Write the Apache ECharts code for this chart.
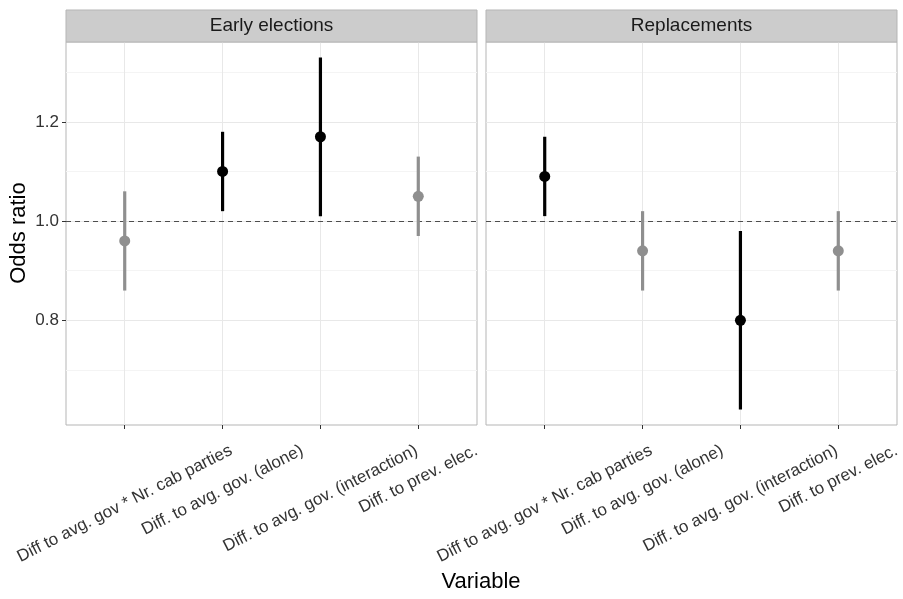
<!DOCTYPE html>
<html>
<head>
<meta charset="utf-8">
<title>Odds ratios by variable</title>
<script src="https://cdn.jsdelivr.net/npm/echarts@6/dist/echarts.min.js"></script>
<style>
  html, body { margin: 0; padding: 0; background: #fff; }
  #chart { width: 903px; height: 599px; }
</style>
</head>
<body>
<div id="chart"></div>
<script>
// Variables shown on the x axis of each facet
const categories = [
  'Diff to avg. gov * Nr. cab parties',
  'Diff. to avg. gov. (alone)',
  'Diff. to avg. gov. (interaction)',
  'Diff. to prev. elec.'
];
const panels = ['Early elections', 'Replacements'];

// Odds ratios with lower / upper bounds, per facet
const earlyEst  = [0.96, 1.10, 1.17, 1.05];
const earlyLow  = [0.86, 1.02, 1.01, 0.97];
const earlyHigh = [1.06, 1.18, 1.33, 1.13];

const replEst  = [1.09, 0.94, 0.80, 0.94];
const replLow  = [1.01, 0.86, 0.62, 0.86];
const replHigh = [1.17, 1.02, 0.98, 1.02];

// Y axis ticks and reference value
const majorTicks = [0.8, 1.0, 1.2];
const minorTicks = [0.7, 0.9, 1.1, 1.3];
const refValue = 1.0;
const yMin = 0.589, yMax = 1.361;

const FONT = '"Liberation Sans", Arial, Helvetica, sans-serif';
const SIG = '#000000';
const NONSIG = '#8f8f8f';
const catPos = categories.map((_, i) => i + 1);

// rotated category labels: centred on the tick, top edges lined up below the axis
const LABEL_SIZE = 17;
const LABEL_ANGLE = 27;
const LABEL_TOP_GAP = 17;

const panelData = [
  { est: earlyEst, low: earlyLow, high: earlyHigh },
  { est: replEst, low: replLow, high: replHigh }
];

const gridBoxes = [
  { left: 66, top: 42, width: 411, height: 383 },
  { left: 486, top: 42, width: 411, height: 383 }
];

const grids = gridBoxes.map(b => Object.assign({
  show: true, borderColor: '#b5b5b5', borderWidth: 1, backgroundColor: '#ffffff'
}, b));

const xAxes = gridBoxes.map((_, i) => ({
  type: 'value', gridIndex: i, min: 0.4, max: 4.6,
  axisLine: { show: false },
  splitLine: { show: false },
  axisTick: { show: true, customValues: catPos, length: 4, lineStyle: { color: '#333', width: 1 } },
  axisLabel: { show: false }
}));

const yAxes = gridBoxes.map((_, i) => ({
  type: 'value', gridIndex: i, min: yMin, max: yMax,
  axisLine: { show: false },
  splitLine: { show: false },
  axisTick: { show: i === 0, customValues: majorTicks, length: 4, lineStyle: { color: '#333', width: 1 } },
  axisLabel: {
    show: i === 0, customValues: majorTicks,
    formatter: v => v.toFixed(1), margin: 7,
    fontFamily: FONT, fontSize: 17, color: '#333'
  }
}));

function gridLines(i) {
  const lines = [];
  minorTicks.forEach(v => lines.push({ yAxis: v, lineStyle: { color: '#f4f4f4', width: 1, type: 'solid' } }));
  majorTicks.forEach(v => lines.push({ yAxis: v, lineStyle: { color: '#e8e8e8', width: 1, type: 'solid' } }));
  catPos.forEach(v => lines.push({ xAxis: v, lineStyle: { color: '#e8e8e8', width: 1, type: 'solid' } }));
  return {
    type: 'scatter', xAxisIndex: i, yAxisIndex: i, data: [], silent: true, z: 1,
    markLine: { silent: true, symbol: 'none', label: { show: false }, animation: false, data: lines, z: 1 }
  };
}

function refLine(i) {
  return {
    type: 'scatter', xAxisIndex: i, yAxisIndex: i, data: [], silent: true, z: 2,
    markLine: {
      silent: true, symbol: 'none', label: { show: false }, animation: false, z: 2,
      data: [{ yAxis: refValue, lineStyle: { color: '#4d4d4d', width: 1.2, type: [5, 4] } }]
    }
  };
}

function intervals(i) {
  const d = panelData[i];
  const rows = catPos.map((x, k) => [x, d.low[k], d.high[k], d.est[k]]);
  return {
    type: 'custom', xAxisIndex: i, yAxisIndex: i, z: 5,
    data: rows,
    encode: { x: 0, y: [1, 2, 3] },
    renderItem: (params, api) => {
      const x = api.value(0), lo = api.value(1), hi = api.value(2), est = api.value(3);
      const significant = lo > refValue || hi < refValue;
      const color = significant ? SIG : NONSIG;
      const pLo = api.coord([x, lo]);
      const pHi = api.coord([x, hi]);
      const pEst = api.coord([x, est]);
      return {
        type: 'group',
        children: [
          { type: 'line', shape: { x1: pLo[0], y1: pLo[1], x2: pHi[0], y2: pHi[1] },
            style: { stroke: color, lineWidth: 3.2 } },
          { type: 'circle', shape: { cx: pEst[0], cy: pEst[1], r: 5.5 },
            style: { fill: color } }
        ]
      };
    }
  };
}

const graphics = [];
gridBoxes.forEach((b, i) => {
  graphics.push({
    type: 'rect', shape: { x: b.left, y: 10, width: b.width, height: b.top - 10 },
    style: { fill: '#cccccc', stroke: '#b5b5b5', lineWidth: 1 }, z: 10
  });
  graphics.push({
    type: 'text', x: b.left + b.width / 2, y: 10 + (b.top - 10) / 2, z: 11,
    style: { text: panels[i], font: '19px ' + FONT, fill: '#1a1a1a', textAlign: 'center', textVerticalAlign: 'middle' }
  });
});
graphics.push({
  type: 'text', x: 19, y: 233, rotation: Math.PI / 2, z: 11,
  style: { text: 'Odds ratio', font: '22px ' + FONT, fill: '#000', textAlign: 'center', textVerticalAlign: 'middle' }
});
graphics.push({
  type: 'text', x: 481, y: 582, z: 11,
  style: { text: 'Variable', font: '22px ' + FONT, fill: '#000', textAlign: 'center', textVerticalAlign: 'middle' }
});

const chart = echarts.init(document.getElementById('chart'), null, { renderer: 'canvas' });
chart.setOption({
  animation: false,
  backgroundColor: '#ffffff',
  grid: grids,
  xAxis: xAxes,
  yAxis: yAxes,
  series: [gridLines(0), gridLines(1), refLine(0), refLine(1), intervals(0), intervals(1)],
  graphic: graphics
});

// Category labels placed from the axis scale: centred on each tick, rotated,
// with the top of every rotated label at the same distance below the panel.
const measureCtx = document.createElement('canvas').getContext('2d');
const labelFont = LABEL_SIZE + 'px ' + FONT;
measureCtx.font = labelFont;
const rad = LABEL_ANGLE * Math.PI / 180;
const labelGraphics = [];
gridBoxes.forEach((_, i) => {
  categories.forEach((name, k) => {
    const p = chart.convertToPixel({ xAxisIndex: i, yAxisIndex: i }, [catPos[k], yMin]);
    const w = measureCtx.measureText(name).width;
    const halfH = (w * Math.sin(rad) + LABEL_SIZE * Math.cos(rad)) / 2;
    labelGraphics.push({
      type: 'text', x: p[0], y: p[1] + LABEL_TOP_GAP + halfH, rotation: rad, z: 11,
      style: { text: name, font: labelFont, fill: '#333', textAlign: 'center', textVerticalAlign: 'middle' }
    });
  });
});
chart.setOption({ graphic: graphics.concat(labelGraphics) });
</script>
</body>
</html>
